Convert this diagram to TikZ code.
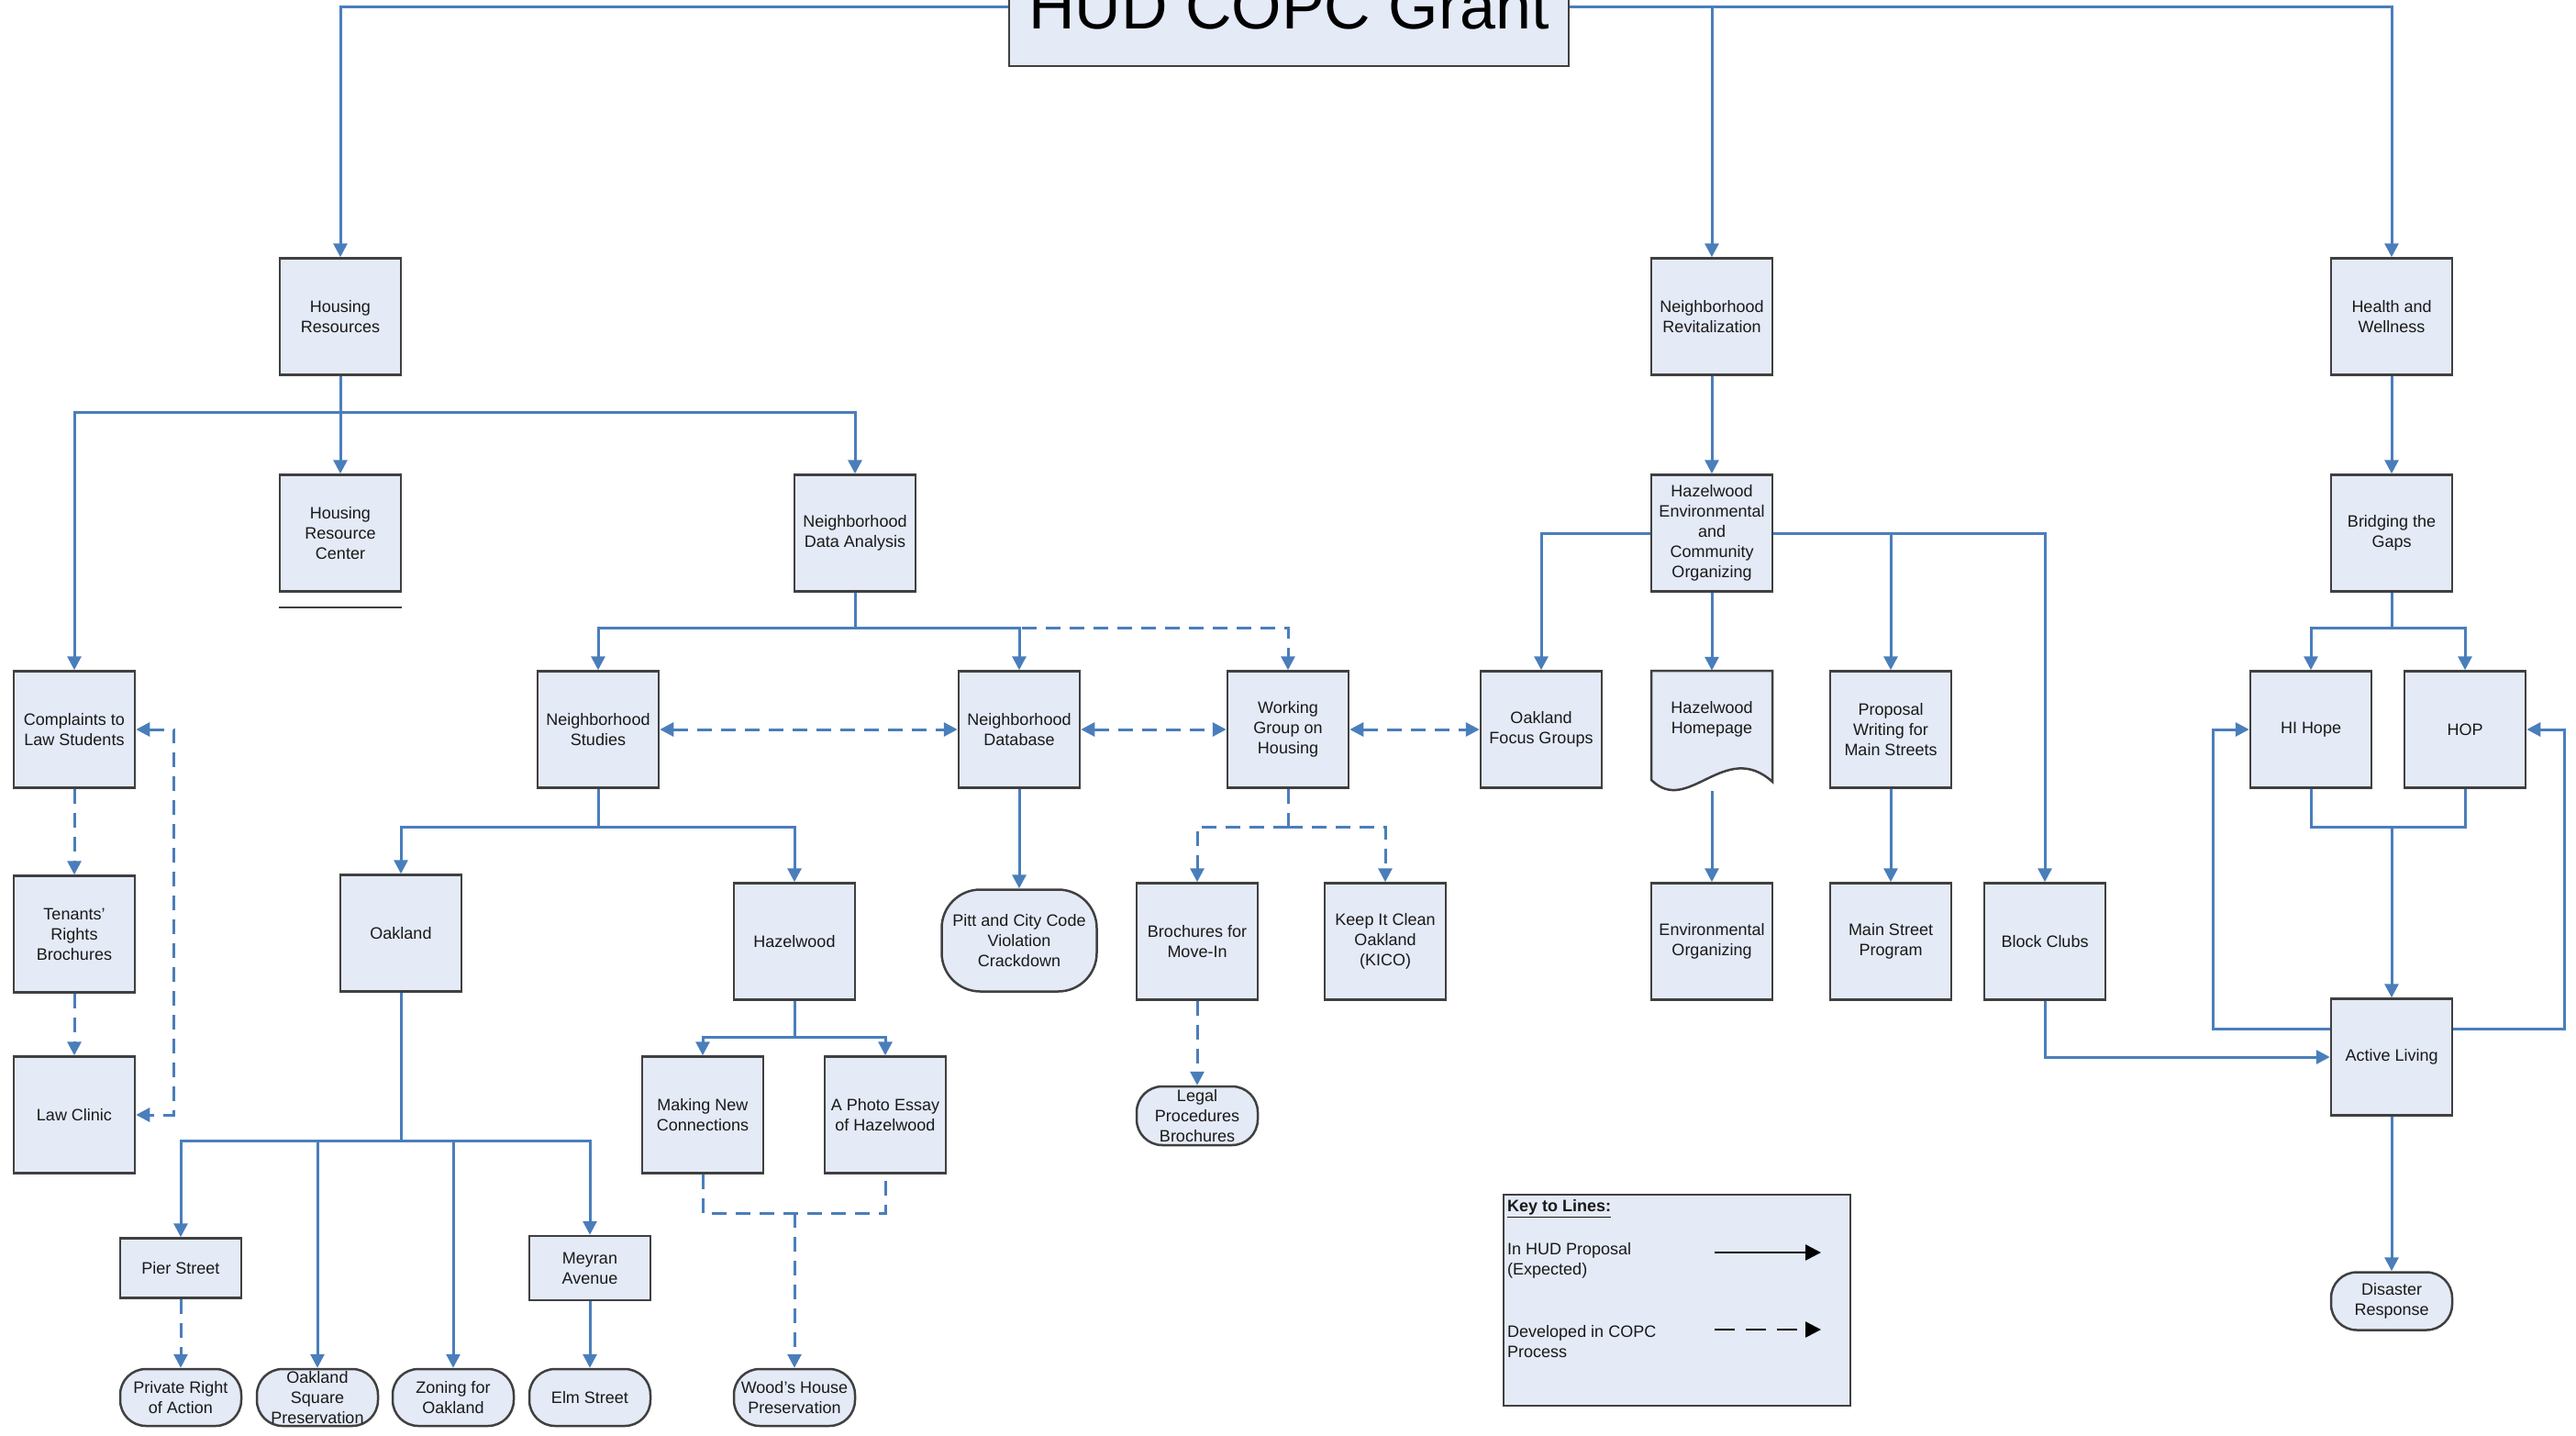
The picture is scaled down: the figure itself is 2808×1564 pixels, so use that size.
\documentclass[tikz,border=0pt]{standalone}
\usepackage{fontspec}
\setmainfont{Liberation Sans}
\usetikzlibrary{arrows.meta}
\definecolor{boxfill}{RGB}{228,234,246}
\definecolor{boxline}{RGB}{64,64,64}
\definecolor{linkblue}{RGB}{74,126,187}
\newcommand\nfont{\fontsize{18}{22}\selectfont}
\begin{document}
\begin{tikzpicture}[x=1pt,y=-1pt,
  >={Triangle[length=15pt,width=15pt]},
  box/.style={draw=boxline, fill=boxfill, line width=2.5pt, minimum width=132pt,
    minimum height=127pt, inner sep=1pt, align=center, font=\nfont, text=black!90},
  term/.style={box, rounded corners=28pt, minimum height=62pt},
  cline/.style={draw=linkblue, line width=3pt},
  conn/.style={cline, ->},
  dline/.style={cline, dash pattern=on 16pt off 10pt},
  dconn/.style={dline, ->},
  dboth/.style={dline, <->},
  keytext/.style={font=\nfont, align=left, inner sep=0pt, text=black!90}]
\useasboundingbox (0,0) rectangle (2808,1564);
\fill[white] (0,0) rectangle (2808,1564);
\clip (0,0) rectangle (2808,1564);

% ---------- nodes ----------
\node[box, minimum width=610pt, minimum height=130pt, font=\fontsize{70}{80}\selectfont, text=black] (title) at (1405,7) {HUD COPC Grant};

\node[box] (hr)  at (371,345) {Housing\\Resources};
\node[box] (hrc) at (371,581) {Housing\\Resource\\Center};
\node[box] (nda) at (932,581) {Neighborhood\\Data Analysis};

\node[box] (cls) at (81,795)  {Complaints to\\Law Students};
\node[box] (trb) at (81,1018) {Tenants'\\Rights\\Brochures};
\node[box] (lc)  at (81,1215) {Law Clinic};

\node[box] (ns)  at (652,795)  {Neighborhood\\Studies};
\node[box] (nd)  at (1111,795) {Neighborhood\\Database};
\node[box] (wg)  at (1404,795) {Working\\Group on\\Housing};
\node[box] (ofg) at (1680,795) {Oakland\\Focus Groups};

\node[box] (oak)  at (437,1017) {Oakland};
\node[box] (haz)  at (866,1026) {Hazelwood};
\node[term, minimum width=169pt, minimum height=111pt, rounded corners=42pt] (pitt) at (1111,1025) {Pitt and City Code\\Violation\\Crackdown};
\node[box] (bmi)  at (1305,1026) {Brochures for\\Move-In};
\node[box] (kico) at (1510,1026) {Keep It Clean\\Oakland\\(KICO)};
\node[term, minimum height=64pt] (legal) at (1305,1216) {Legal\\Procedures\\Brochures};

\node[box] (mnc) at (766,1215) {Making New\\Connections};
\node[box] (pe)  at (965,1215) {A Photo Essay\\of Hazelwood};

\node[box, minimum height=65pt] (pier)   at (197,1382) {Pier Street};
\node[box, minimum height=70pt] (meyran) at (643,1382) {Meyran\\Avenue};

\node[term] (pra)  at (197,1523) {Private Right\\of Action};
\node[term] (osp)  at (346,1523) {Oakland\\Square\\Preservation};
\node[term] (zon)  at (494,1523) {Zoning for\\Oakland};
\node[term] (elm)  at (643,1523) {Elm Street};
\node[term] (wood) at (866,1523) {Wood's House\\Preservation};

\node[box] (nr)   at (1866,345) {Neighborhood\\Revitalization};
\node[box] (heco) at (1866,581) {Hazelwood\\Environmental\\and\\Community\\Organizing};
\node[minimum width=132pt, minimum height=131pt, inner sep=0pt] (hh) at (1866,796.5) {};
\filldraw[draw=boxline, fill=boxfill, line width=2.5pt]
  (1800,731) -- (1932,731) -- (1932,852) .. controls (1880,805) and (1840,890) .. (1800,850) -- cycle;
\node[font=\nfont, align=center, text=black!90] (hht) at (1866,784) {Hazelwood\\Homepage};
\node[box] (eo)  at (1866,1026) {Environmental\\Organizing};
\node[box] (pw)  at (2061,795)  {Proposal\\Writing for\\Main Streets};
\node[box] (msp) at (2061,1026) {Main Street\\Program};
\node[box] (bc)  at (2229,1026) {Block Clubs};

\node[box] (hw)  at (2607,345) {Health and\\Wellness};
\node[box] (btg) at (2607,581) {Bridging the\\Gaps};
\node[box] (hih) at (2519,795) {HI Hope};
\node[box] (hop) at (2687,795) {HOP};
\node[box] (al)  at (2607,1152) {Active Living};
\node[term, minimum height=63pt] (dr) at (2607,1418) {Disaster\\Response};

% ---------- junction coordinates ----------
\coordinate (j1) at (371,449);
\coordinate (j2) at (932,684);
\coordinate (j3) at (652,901);
\coordinate (j4) at (437,1243);
\coordinate (j5) at (866,1130);
\coordinate (j6) at (866,1322);
\coordinate (j7) at (1404,901);
\coordinate (jb) at (2607,684);
\coordinate (jh) at (2607,901);
\coordinate (fbl) at (2412,1121);
\coordinate (fbr) at (2795,1121);

% ---------- connectors ----------
\draw[conn] (title.west) -| (hr.north);
\draw[conn] (title.east) -| (hw.north);
\draw[conn] (title.east -| nr.north) -- (nr.north);

\draw[conn] (hr.south) -- (hrc.north);
\draw[conn] (hr.south) -- (j1) -| (cls.north);
\draw[conn] (j1) -| (nda.north);
\draw[boxline, line width=2.5pt] ([yshift=-16pt]hrc.south west) -- ([yshift=-16pt]hrc.south east);

\draw[dconn] (cls) -- (trb);
\draw[dconn] (trb) -- (lc);
\draw[dboth] (cls.east) -- ++(41,0) |- (lc.east);

\draw[conn] (nda.south) -- (j2) -| (ns.north);
\draw[conn] (j2) -| (nd.north);
\draw[dconn] (j2) -| (wg.north);
\draw[dboth] (ns) -- (nd);
\draw[dboth] (nd) -- (wg);
\draw[dboth] (wg) -- (ofg);

\draw[conn] (ns.south) -- (j3) -| (oak.north);
\draw[conn] (j3) -| (haz.north);
\draw[conn] (nd) -- (pitt);
\draw[dline] (wg.south) -- (j7);
\draw[dconn] (j7) -| (bmi.north);
\draw[dconn] (j7) -| (kico.north);
\draw[dconn] (bmi) -- (legal);

\draw[conn] (oak.south) -- (j4) -| (pier.north);
\draw[conn] (j4) -| (osp.north);
\draw[conn] (j4) -| (zon.north);
\draw[conn] (j4) -| (meyran.north);
\draw[dconn] (pier) -- (pra);
\draw[conn] (meyran) -- (elm);

\draw[conn] (haz.south) -- (j5) -| (mnc.north);
\draw[conn] (j5) -| (pe.north);
\draw[dline] (mnc.south) |- (j6) -| (pe.south);
\draw[dconn] (j6) -- (wood.north);

\draw[conn] (nr) -- (heco);
\draw[conn] (heco.west) -| (ofg.north);
\draw[conn] (heco.east) -| (pw.north);
\draw[conn] (heco.east) -| (bc.north);
\draw[conn] (heco.south) -- (hh.north);
\draw[conn] (hh.south) -- (eo.north);
\draw[conn] (pw) -- (msp);
\draw[conn] (bc.south) |- (al.west);

\draw[conn] (hw) -- (btg);
\draw[conn] (btg.south) -- (jb) -| (hih.north);
\draw[conn] (jb) -| (hop.north);
\draw[cline] (hih.south) |- (jh) -| (hop.south);
\draw[conn] (jh) -- (al.north);
\draw[conn] (al.west |- fbl) -- (fbl) |- (hih.west);
\draw[conn] (al.east |- fbr) -- (fbr) |- (hop.east);
\draw[conn] (al) -- (dr);

% ---------- legend ----------
\node[box, minimum width=378pt, minimum height=230pt] (legend) at (1828,1417) {};
\node[keytext, anchor=west, font=\nfont\bfseries] (keyt) at (1643,1317) {\underline{Key to Lines:}};
\node[keytext, anchor=north west] (k1) at (1643,1354) {In HUD Proposal\\(Expected)};
\node[keytext, anchor=north west] (k2) at (1643,1444) {Developed in COPC\\Process};
\coordinate (a1s) at (1869,1365);
\coordinate (a1e) at (1985,1365);
\coordinate (a2s) at (1869,1449);
\coordinate (a2e) at (1985,1449);
\draw[black, line width=2.5pt, -{Triangle[length=17pt,width=17pt]}] (a1s) -- (a1e);
\draw[black, line width=2.5pt, dash pattern=on 22pt off 12pt, -{Triangle[length=17pt,width=17pt]}] (a2s) -- (a2e);
\end{tikzpicture}
\end{document}
